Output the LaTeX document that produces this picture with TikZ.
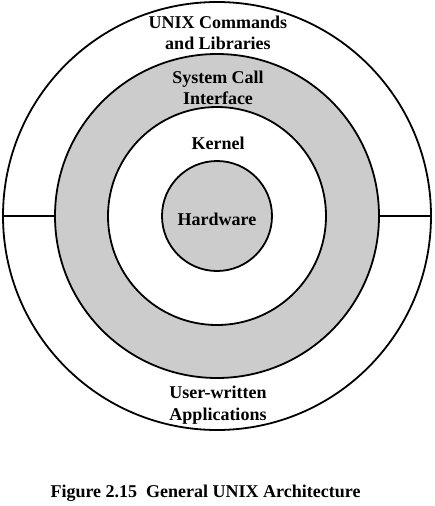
\documentclass[tikz,border=0pt]{standalone}
\usepackage{fontspec}
\setmainfont{Liberation Serif}
\definecolor{ringgray}{RGB}{204,204,204}
\begin{document}
\begin{tikzpicture}[x=1pt,y=-1pt,
  ring/.style={draw=black,line width=1.8pt},
  lbl/.style={font=\fontsize{18}{21.5}\selectfont\bfseries,align=center,inner sep=0pt}]
\useasboundingbox (0,0) rectangle (434,506);
\coordinate (c) at (217,216);
\fill[white] (c) circle (214);
\draw[ring] (c) circle (214);
\fill[ringgray,ring] (c) circle (162);
\fill[white,ring] (c) circle (109);
\node[ring,fill=ringgray,circle,minimum size=110pt,inner sep=0pt] (hw) at (c) {};
\node[lbl] (hwl) at (217,219) {Hardware};
\coordinate (la) at (3,216); \coordinate (lb) at (55,216);
\coordinate (ra) at (379,216); \coordinate (rb) at (431,216);
\draw[line width=1.8pt] (la) -- (lb);
\draw[line width=1.8pt] (ra) -- (rb);
\node[lbl] (unix) at (218,33) {UNIX Commands\\and Libraries};
\node[lbl] (sci) at (218,88) {System Call\\Interface};
\node[lbl] (ker) at (218,143) {Kernel};
\node[lbl] (usr) at (218,405) {User-written\\Applications};
\node[lbl] (cap) at (205.5,493) {Figure 2.15\hspace{0.5em}General UNIX Architecture};
\end{tikzpicture}
\end{document}
